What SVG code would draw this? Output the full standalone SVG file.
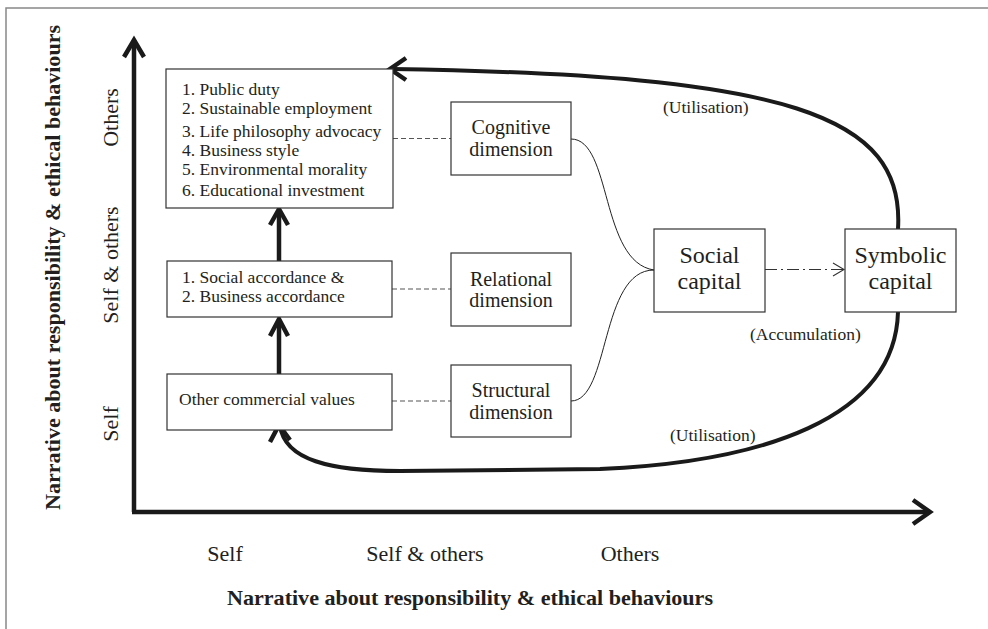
<svg xmlns="http://www.w3.org/2000/svg" width="988" height="629" viewBox="0 0 988 629">
<style>
text{font-family:"Liberation Serif","Times New Roman",serif;fill:#231f20}
.box{fill:#fff;stroke:#333;stroke-width:1.2}
.t17{font-size:17.5px}
.t20{font-size:20px}
.t24{font-size:24px}
.ax{font-size:22px}
.title{font-size:21px;font-weight:bold}
.thick{fill:none;stroke:#1a1a1a;stroke-width:4.5;stroke-linecap:butt}
.loop{fill:none;stroke:#1a1a1a;stroke-width:4}
.head{fill:none;stroke:#1a1a1a;stroke-width:4.5;stroke-linejoin:miter}
.dash{fill:none;stroke:#555;stroke-width:1.2;stroke-dasharray:5,3}
.thin{fill:none;stroke:#222;stroke-width:1}
</style>
<path d="M6,629 V8 H988" fill="none" stroke="#888" stroke-width="1.5"/>

<g id="axes">
<path class="thick" d="M134,512 V40"/>
<path class="head" d="M124,57 L134,40 L144,57"/>
<path class="thick" d="M132,512 H929"/>
<path class="head" d="M913,500 L930,512 L913,524"/>
<text class="ax" transform="translate(118,117.5) rotate(-90)" text-anchor="middle">Others</text>
<text class="ax" transform="translate(118,265) rotate(-90)" text-anchor="middle">Self &amp; others</text>
<text class="ax" transform="translate(118,424) rotate(-90)" text-anchor="middle">Self</text>
<text class="title" transform="translate(60,267.5) rotate(-90)" text-anchor="middle" textLength="485" lengthAdjust="spacingAndGlyphs">Narrative about responsibility &amp; ethical behaviours</text>
<text class="ax" x="225" y="561" text-anchor="middle">Self</text>
<text class="ax" x="425" y="561" text-anchor="middle">Self &amp; others</text>
<text class="ax" x="630" y="561" text-anchor="middle">Others</text>
<text class="title" x="470" y="605" text-anchor="middle" textLength="486" lengthAdjust="spacingAndGlyphs">Narrative about responsibility &amp; ethical behaviours</text>
</g>

<g id="connectors">
<path class="dash" d="M393,138.5 H451"/>
<path class="dash" d="M392,289 H451"/>
<path class="dash" d="M392,401 H451"/>
<path class="thin" d="M571,139 C612,139 600,262 654,270"/>
<path class="thin" d="M571,401 C610,401 600,270 654,270"/>
<path fill="none" stroke="#333" stroke-width="1.1" stroke-dasharray="12,4,2,4" d="M765,269.5 H843"/>
<path fill="none" stroke="#333" stroke-width="1.1" d="M833,263 L844,269.5 L833,276"/>
<path class="thick" d="M279,261 V211"/>
<path class="head" d="M270,225 L279,209 L288,225"/>
<path class="thick" d="M279,374 V321"/>
<path class="head" d="M270,336 L279,319 L288,336"/>
<path class="loop" d="M898,229 C905,115 790,75 392,69"/>
<path class="head" d="M406,58 L390,69 L406,80" stroke-width="4"/>
<path class="loop" d="M898,312 C895,420 760,462 600,469 L400,471 C330,471 285,460 280,426"/>
<path class="head" d="M270,442 L279,425 L290,440" stroke-width="4"/>
<text class="t17" x="663" y="113">(Utilisation)</text>
<text class="t17" x="670" y="441">(Utilisation)</text>
<text class="t17" x="750" y="340">(Accumulation)</text>
</g>

<g id="box-others">
<rect class="box" x="166" y="69" width="227" height="139"/>
<text class="t17" x="182" y="95">1. Public duty</text>
<text class="t17" x="182" y="114">2. Sustainable employment</text>
<text class="t17" x="182" y="137">3. Life philosophy advocacy</text>
<text class="t17" x="182" y="156">4. Business style</text>
<text class="t17" x="182" y="175">5. Environmental morality</text>
<text class="t17" x="182" y="196">6. Educational investment</text>
</g>

<g id="box-selfothers">
<rect class="box" x="167" y="261" width="225" height="56"/>
<text class="t17" x="182" y="283">1. Social accordance &amp;</text>
<text class="t17" x="182" y="302">2. Business accordance</text>
</g>

<g id="box-self">
<rect class="box" x="167" y="374" width="225" height="56"/>
<text class="t17" x="179" y="405">Other commercial values</text>
</g>

<g id="cognitive">
<rect class="box" x="451" y="102" width="120" height="73"/>
<text class="t20" x="511" y="134" text-anchor="middle">Cognitive</text>
<text class="t20" x="511" y="156" text-anchor="middle">dimension</text>
</g>

<g id="relational">
<rect class="box" x="451" y="253" width="120" height="73"/>
<text class="t20" x="511" y="286" text-anchor="middle">Relational</text>
<text class="t20" x="511" y="307" text-anchor="middle">dimension</text>
</g>

<g id="structural">
<rect class="box" x="451" y="365" width="120" height="72"/>
<text class="t20" x="511" y="397" text-anchor="middle">Structural</text>
<text class="t20" x="511" y="419" text-anchor="middle">dimension</text>
</g>

<g id="social">
<rect class="box" x="654" y="229" width="111" height="83"/>
<text class="t24" x="709.5" y="263" text-anchor="middle">Social</text>
<text class="t24" x="709.5" y="289" text-anchor="middle">capital</text>
</g>

<g id="symbolic">
<rect class="box" x="845" y="229" width="111" height="83"/>
<text class="t24" x="900.5" y="263" text-anchor="middle">Symbolic</text>
<text class="t24" x="900.5" y="289" text-anchor="middle">capital</text>
</g>
</svg>
